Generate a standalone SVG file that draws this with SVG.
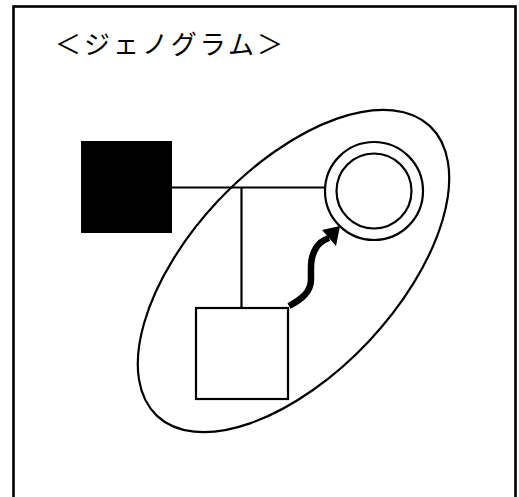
<svg xmlns="http://www.w3.org/2000/svg" width="519" height="497" viewBox="0 0 519 497">
<style>
.ln{fill:none;stroke:#000;stroke-width:2.2}
.title{font-family:"Noto Sans CJK JP","Noto Sans",sans-serif;font-size:26px;fill:#000}
</style>
<rect x="0" y="0" width="519" height="497" fill="#fff"/>
<rect id="frame" x="13.5" y="6.5" width="502" height="500" fill="none" stroke="#000" stroke-width="2.6"/>
<text class="title" x="55" y="54" textLength="228" lengthAdjust="spacing">＜ジェノグラム＞</text>
<g id="household">
<ellipse class="ln" cx="293.5" cy="271" rx="199" ry="103" transform="rotate(-46.7 293.5 271)"/>
</g>
<g id="connectors">
<path class="ln" d="M172,187.5 H325 M241.5,187.5 V308"/>
<path d="M289,306 C302,299 311,292 311,279 C311,266 310,258 316,248 C319,243 323,240 329,238" fill="none" stroke="#000" stroke-width="6.5"/>
<polygon points="340,226 322,230 336,246" fill="#000"/>
</g>
<g id="father"><rect x="81" y="141" width="91" height="92" fill="#000"/></g>
<g id="mother">
<circle class="ln" cx="374" cy="191" r="49"/>
<circle class="ln" cx="374" cy="191" r="37.5"/>
</g>
<g id="child"><rect class="ln" x="196" y="308" width="92" height="91" fill="#fff"/></g>
</svg>
